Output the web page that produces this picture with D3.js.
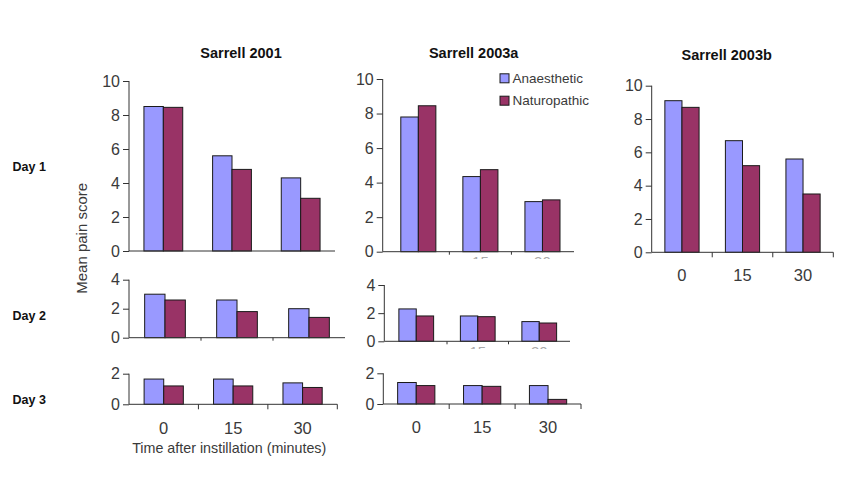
<!DOCTYPE html>
<html>
<head>
<meta charset="utf-8">
<script src="https://cdn.jsdelivr.net/npm/d3@7/dist/d3.min.js"></script>
<style>
  html, body { margin: 0; padding: 0; background: #fff; }
  svg { display: block; }
  text { font-family: "Liberation Sans", Arial, sans-serif; }
</style>
</head>
<body>
<svg id="chart" width="850" height="483"></svg>
<script>
// Time points after instillation (minutes) and the two treatment groups
const times = ["0", "15", "30"];
const groups = ["Anaesthetic", "Naturopathic"];
const groupColors = ["#9999ff", "#993366"];

// Mean pain scores — Sarrell 2001
const s2001Day1Anaesthetic = [8.5, 5.6, 4.3];
const s2001Day1Naturopathic = [8.45, 4.8, 3.1];
const s2001Day2Anaesthetic = [3.0, 2.6, 2.0];
const s2001Day2Naturopathic = [2.6, 1.8, 1.4];
const s2001Day3Anaesthetic = [1.65, 1.65, 1.4];
const s2001Day3Naturopathic = [1.2, 1.2, 1.1];

// Mean pain scores — Sarrell 2003a
const s2003aDay1Anaesthetic = [7.8, 4.35, 2.9];
const s2003aDay1Naturopathic = [8.45, 4.75, 3.0];
const s2003aDay2Anaesthetic = [2.3, 1.8, 1.4];
const s2003aDay2Naturopathic = [1.8, 1.75, 1.3];
const s2003aDay3Anaesthetic = [1.4, 1.2, 1.2];
const s2003aDay3Naturopathic = [1.2, 1.15, 0.3];

// Mean pain scores — Sarrell 2003b (day 1 only)
const s2003bDay1Anaesthetic = [9.1, 6.7, 5.6];
const s2003bDay1Naturopathic = [8.7, 5.2, 3.5];

// Axis tick values
const ticksTen = [0, 2, 4, 6, 8, 10];
const ticksFour = [0, 2, 4];
const ticksTwo = [0, 2];

const titles = ["Sarrell 2001", "Sarrell 2003a", "Sarrell 2003b"];
const dayLabels = ["Day 1", "Day 2", "Day 3"];

const svg = d3.select("#chart");
const AXIS = "#333";
const TEXT = "#3a3a3a";

// Layout of each small panel
const panels = [
  { a: s2001Day1Anaesthetic, n: s2001Day1Naturopathic, yAxisX: 129, band: [129, 335], axisEnd: 335, y: [251, 81], max: 10, ticks: ticksTen, xTick: 0 },
  { a: s2001Day2Anaesthetic, n: s2001Day2Naturopathic, yAxisX: 129, band: [129, 345], axisEnd: 345, y: [337.7, 279.7], max: 4, ticks: ticksFour, xTick: 3 },
  { a: s2001Day3Anaesthetic, n: s2001Day3Naturopathic, yAxisX: 129, band: [129, 337.3], axisEnd: 337.3, y: [404.3, 373.7], max: 2, ticks: ticksTwo, xTick: 5, labels: 428 },
  { a: s2003aDay1Anaesthetic, n: s2003aDay1Naturopathic, yAxisX: 382.7, band: [387.3, 573.5], axisEnd: 574, y: [251.7, 79], max: 10, ticks: ticksTen, xTick: 3, stub: 257 },
  { a: s2003aDay2Anaesthetic, n: s2003aDay2Naturopathic, yAxisX: 384.3, band: [385.5, 570], axisEnd: 570, y: [341.3, 285], max: 4, ticks: ticksFour, xTick: 3, stub: 347 },
  { a: s2003aDay3Anaesthetic, n: s2003aDay3Naturopathic, yAxisX: 383.3, band: [383.3, 581], axisEnd: 581, y: [404, 373.3], max: 2, ticks: ticksTwo, xTick: 5, labels: 427 },
  { a: s2003bDay1Anaesthetic, n: s2003bDay1Naturopathic, yAxisX: 651.7, band: [651.7, 833.3], axisEnd: 833.3, y: [252.3, 85.7], max: 10, ticks: ticksTen, xTick: 5, labels: 275 }
];

const defs = svg.append("defs");

panels.forEach((p, i) => {
  const g = svg.append("g");
  const x = d3.scaleBand().domain(times).range(p.band).paddingInner(0.435).paddingOuter(0.2175);
  const xs = d3.scaleBand().domain(groups).range([0, x.bandwidth()]);
  const y = d3.scaleLinear().domain([0, p.max]).range(p.y);
  const step = x.step();

  // bars
  const rows = times.map((t, k) => ({ t, vals: [p.a[k], p.n[k]] }));
  const cat = g.selectAll("g.cat").data(rows).join("g")
    .attr("transform", d => `translate(${x(d.t)},0)`);
  cat.selectAll("rect").data(d => d.vals.map((v, j) => ({ v, grp: groups[j], j }))).join("rect")
    .attr("x", d => xs(d.grp))
    .attr("y", d => y(d.v))
    .attr("width", xs.bandwidth())
    .attr("height", d => y(0) - y(d.v))
    .attr("fill", d => groupColors[d.j])
    .attr("stroke", "#1a1a1a")
    .attr("stroke-width", 1);

  // y axis
  const yAxis = d3.axisLeft(y).tickValues(p.ticks).tickSize(6).tickPadding(3).tickFormat(d3.format("d"));
  const ya = g.append("g").attr("transform", `translate(${p.yAxisX},0)`).call(yAxis);
  ya.select(".domain").attr("stroke", AXIS).attr("d", `M0,${y(p.max)}V${y(0)}`);
  ya.selectAll(".tick line").attr("stroke", AXIS);
  ya.selectAll(".tick text").attr("fill", TEXT).attr("font-size", 16)
    .attr("font-family", "Liberation Sans, Arial, sans-serif");

  // x baseline
  g.append("line")
    .attr("x1", p.yAxisX).attr("x2", p.axisEnd)
    .attr("y1", y(0)).attr("y2", y(0))
    .attr("stroke", AXIS).attr("stroke-width", 1);

  // x tick marks at category boundaries
  if (p.xTick > 0) {
    const bounds = [1, 2].map(k => p.band[0] + k * step);
    if (p.labels) bounds.push(p.axisEnd);
    g.selectAll("line.xt").data(bounds).join("line")
      .attr("x1", d => d).attr("x2", d => d)
      .attr("y1", y(0)).attr("y2", y(0) + p.xTick)
      .attr("stroke", AXIS);
  }

  // category labels
  if (p.labels) {
    g.selectAll("text.xl").data(times).join("text")
      .attr("x", d => x(d) + x.bandwidth() / 2)
      .attr("y", p.labels)
      .attr("dy", "0.35em")
      .attr("text-anchor", "middle")
      .attr("font-size", 16.5)
      .attr("fill", TEXT)
      .text(d => d);
  }

  // labels hidden behind the next panel, only their top edge shows
  if (p.stub) {
    const id = "stub" + i;
    defs.append("clipPath").attr("id", id).append("rect")
      .attr("x", p.band[0]).attr("y", p.stub).attr("width", p.band[1] - p.band[0]).attr("height", 2);
    g.append("g").attr("clip-path", `url(#${id})`)
      .selectAll("text").data(times.slice(1)).join("text")
      .attr("x", d => x(d) + x.bandwidth() / 2)
      .attr("y", p.stub - 1)
      .attr("dy", "0.75em")
      .attr("text-anchor", "middle")
      .attr("font-size", 15)
      .attr("fill", "#aaa")
      .text(d => d);
  }
});

// panel titles
const titleX = [241, 473.7, 726.7];
const titleY = [53.3, 53.3, 55];
svg.selectAll("text.title").data(titles).join("text")
  .attr("x", (d, i) => titleX[i])
  .attr("y", (d, i) => titleY[i])
  .attr("dy", "0.35em")
  .attr("text-anchor", "middle")
  .attr("font-size", 14.5)
  .attr("font-weight", "bold")
  .attr("fill", "#111")
  .text(d => d);

// row labels
const dayY = [166.7, 316, 399.3];
svg.selectAll("text.day").data(dayLabels).join("text")
  .attr("x", 12.5)
  .attr("y", (d, i) => dayY[i])
  .attr("dy", "0.35em")
  .attr("font-size", 12.5)
  .attr("font-weight", "bold")
  .attr("fill", "#111")
  .text(d => d);

// y axis title
svg.append("text")
  .attr("transform", "translate(81.7,238.3) rotate(-90)")
  .attr("dy", "0.35em")
  .attr("text-anchor", "middle")
  .attr("font-size", 15)
  .attr("fill", TEXT)
  .text("Mean pain score");

// x axis title
svg.append("text")
  .attr("x", 229.2)
  .attr("y", 447.7)
  .attr("dy", "0.35em")
  .attr("text-anchor", "middle")
  .attr("font-size", 14.3)
  .attr("fill", TEXT)
  .text("Time after instillation (minutes)");

// legend
const legend = svg.append("g");
const legendY = [78.3, 100.7];
groups.forEach((name, i) => {
  legend.append("rect")
    .attr("x", 500).attr("y", legendY[i] - 4.5)
    .attr("width", 9).attr("height", 9)
    .attr("fill", groupColors[i])
    .attr("stroke", "#1a1a1a");
  legend.append("text")
    .attr("x", 512.5).attr("y", legendY[i])
    .attr("dy", "0.35em")
    .attr("font-size", 13.5)
    .attr("fill", TEXT)
    .text(name);
});
</script>
</body>
</html>
